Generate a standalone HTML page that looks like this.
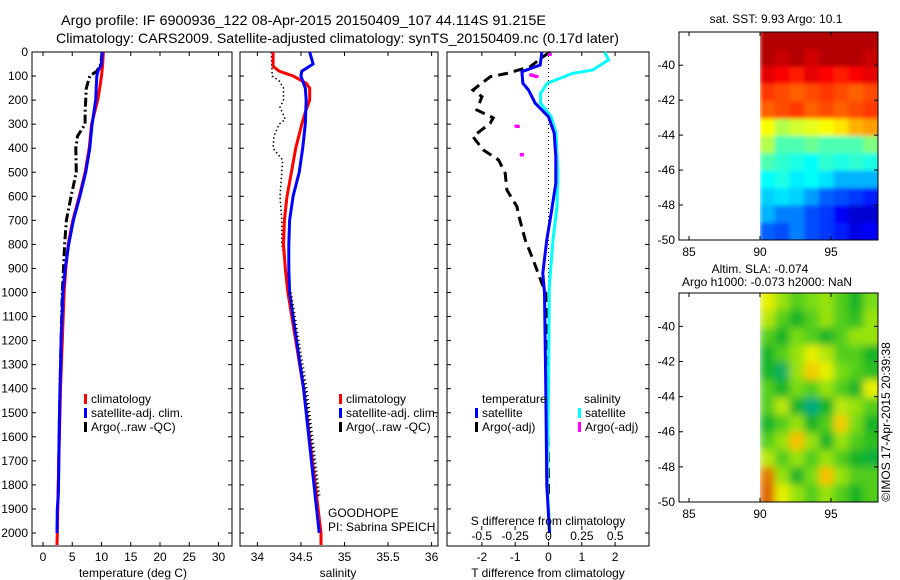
<!DOCTYPE html>
<html><head><meta charset="utf-8">
<style>
html,body{margin:0;padding:0;background:#fff;}
svg{display:block;font-family:"Liberation Sans",sans-serif;}
text{fill:#000;}
</style></head>
<body>
<svg id="fig" width="900" height="580" viewBox="0 0 900 580" xmlns="http://www.w3.org/2000/svg">
<defs>
<filter id="blurS" x="-5%" y="-5%" width="110%" height="110%"><feGaussianBlur stdDeviation="2"/></filter>
<filter id="blurL" x="-5%" y="-5%" width="110%" height="110%"><feGaussianBlur stdDeviation="4"/></filter>
<clipPath id="clipSST"><rect x="760" y="32" width="118" height="208"/></clipPath>
<clipPath id="clipSLA"><rect x="760" y="293" width="118" height="209"/></clipPath>
</defs>
<g id="titles">
<text x="61" y="25" font-size="14" textLength="485" lengthAdjust="spacingAndGlyphs">Argo profile: IF 6900936_122 08-Apr-2015 20150409_107 44.114S 91.215E</text>
<text x="56" y="43" font-size="14" textLength="563" lengthAdjust="spacingAndGlyphs">Climatology: CARS2009. Satellite-adjusted climatology: synTS_20150409.nc (0.17d later)</text>
</g>
</svg>
<script>
// ---------- data ----------
const depthTicks=[0,100,200,300,400,500,600,700,800,900,1000,1100,1200,1300,1400,1500,1600,1700,1800,1900,2000];
const tempTicks=[0,5,10,15,20,25,30];
const salTicks=[34,34.5,35,35.5,36];
const tdiffTicks=[-2,-1,0,1,2];
const sdiffTicks=[-0.5,-0.25,0,0.25,0.5];
const sdiffTickLabels=["-0.5","-0.25","0","0.25","0.5"];

const climDepth=[0,50,100,150,200,300,400,500,600,700,800,900,1000,1200,1400,1600,1800,2000,2050];
const climTemp=[10.3,10.2,10.0,9.7,9.35,8.3,7.9,7.2,6.2,5.1,4.3,3.9,3.6,3.3,3.0,2.8,2.6,2.45,2.4];
const satDepth=[0,50,80,100,150,200,300,400,500,600,700,800,900,1000,1200,1400,1600,1800,1850,1900,2000];
const satTemp=[10.1,10.0,9.4,9.2,9.1,9.0,8.4,8.0,7.3,6.3,5.2,4.4,3.8,3.4,3.1,2.9,2.75,2.65,2.6,2.45,2.4];
const argoDepth=[0,50,80,100,150,200,250,300,350,400,500,600,700,800,900,1000,1200,1400,1600,1850];
const argoTemp=[10.1,9.9,9.2,8.0,7.4,7.3,7.2,7.2,5.9,5.6,5.7,4.8,4.0,3.7,3.5,3.3,3.1,2.9,2.75,2.6];

const salClimDepth=[0,60,80,100,130,150,200,250,300,400,500,600,700,800,900,1000,1400,2000,2050];
const salClim=[34.18,34.18,34.25,34.41,34.56,34.60,34.60,34.55,34.51,34.44,34.39,34.34,34.31,34.30,34.32,34.35,34.53,34.73,34.73];
const salSatDepth=[0,50,80,100,150,200,300,400,500,600,700,800,900,1000,1400,2000];
const salSat=[34.60,34.64,34.51,34.50,34.55,34.56,34.55,34.52,34.48,34.41,34.37,34.36,34.36,34.37,34.53,34.71];
const salArgoDepth=[0,100,120,150,200,230,280,300,350,400,450,500,600,700,800,900,1000,1400,1850];
const salArgo=[34.16,34.17,34.25,34.30,34.30,34.26,34.32,34.25,34.19,34.18,34.29,34.28,34.26,34.28,34.28,34.33,34.37,34.55,34.70];

const tdSatDepth=[0,54,82,130,158,213,269,337,435,546,670,781,920,1000,1400,1800,2000];
const tdSat=[-0.2,-0.25,-0.8,-0.77,-0.6,-0.4,0,0.17,0.22,0.22,0.08,-0.05,-0.17,-0.12,-0.08,-0.05,0.03];
const sdSatDepth=[0,33,75,89,130,172,213,269,337,504,643,781,975,1400,1800,2000];
const sdSat=[0.42,0.45,0.33,0.18,-0.01,-0.06,-0.06,0.02,0.056,0.07,0.064,0.034,0.006,0.0,-0.01,0.01];
const tdArgoDepth=[0,19,61,89,103,158,186,241,274,296,352,407,449,504,574,643,698,781,865,961,1000,1400,1850];
const tdArgo=[0.05,-0.16,-0.55,-1.25,-1.75,-2.27,-2.0,-2.15,-1.66,-1.75,-2.27,-1.96,-1.5,-1.3,-1.25,-0.95,-0.86,-0.7,-0.46,-0.2,-0.08,-0.03,0.0];
const sdArgoDepth=[10,95,98,100,102,308,310,426,428];
const sdArgo=[0.01,-0.13,-0.12,-0.1,-0.09,-0.24,-0.23,-0.2,-0.2];

const latTicks=[-40,-42,-44,-46,-48,-50];
const lonTicks=[85,90,95];
const sstGrid=[
[0.95,0.95,0.95,0.95,0.95,0.95,0.95,0.95],
[0.95,0.93,0.95,0.92,0.95,0.95,0.95,0.93],
[0.90,0.88,0.85,0.90,0.87,0.85,0.88,0.90],
[0.82,0.80,0.78,0.80,0.82,0.80,0.78,0.80],
[0.78,0.80,0.82,0.78,0.80,0.78,0.80,0.82],
[0.62,0.55,0.58,0.60,0.62,0.65,0.70,0.72],
[0.55,0.45,0.45,0.48,0.45,0.45,0.45,0.50],
[0.45,0.42,0.40,0.38,0.42,0.40,0.42,0.40],
[0.38,0.40,0.36,0.38,0.35,0.30,0.30,0.30],
[0.33,0.35,0.33,0.28,0.22,0.20,0.18,0.15],
[0.30,0.25,0.25,0.20,0.18,0.12,0.08,0.08],
[0.22,0.20,0.25,0.20,0.18,0.15,0.10,0.12]];
const slaGrid=[
[0.65,0.60,0.55,0.58,0.60,0.55,0.50,0.58],
[0.62,0.55,0.50,0.55,0.60,0.55,0.52,0.60],
[0.55,0.50,0.58,0.55,0.50,0.55,0.60,0.60],
[0.50,0.55,0.60,0.65,0.62,0.55,0.55,0.50],
[0.50,0.45,0.60,0.70,0.65,0.58,0.55,0.52],
[0.55,0.50,0.58,0.55,0.60,0.55,0.50,0.65],
[0.55,0.62,0.50,0.42,0.50,0.62,0.60,0.55],
[0.50,0.55,0.60,0.50,0.55,0.70,0.58,0.50],
[0.55,0.60,0.72,0.60,0.50,0.60,0.55,0.52],
[0.62,0.55,0.60,0.55,0.60,0.55,0.50,0.48],
[0.80,0.60,0.50,0.58,0.72,0.60,0.55,0.55],
[0.82,0.65,0.60,0.55,0.60,0.55,0.50,0.55]];

// ---------- helpers ----------
const NS="http://www.w3.org/2000/svg";
const svg=document.getElementById('fig');
function mk(tag,attrs,parent){const e=document.createElementNS(NS,tag);for(const k in attrs)e.setAttribute(k,attrs[k]);(parent||svg).appendChild(e);return e;}
function txt(x,y,s,size,anchor,parent){const t=mk('text',{x:x,y:y,'font-size':size||12,'text-anchor':anchor||'start'},parent);t.textContent=s;return t;}
const yD=d=>52+d*0.2405;
const TOP=52,BOT=546;
const xT=v=>43+v*5.85;
const xS=v=>257.4+(v-34)*87.1;
const xTD=v=>548.5+v*33.3;
const xSD=v=>548.5+v*133.5;

function jet(v){
  v=Math.max(0,Math.min(1,v));
  const r=Math.max(0,Math.min(1,1.5-Math.abs(4*v-3)));
  const g=Math.max(0,Math.min(1,1.5-Math.abs(4*v-2)));
  const b=Math.max(0,Math.min(1,1.5-Math.abs(4*v-1)));
  return `rgb(${Math.round(r*255)},${Math.round(g*255)},${Math.round(b*255)})`;
}
// SLA colour scale: more saturated greens/yellows
function slaColor(v){
  const stops=[[0.40,[0,170,150]],[0.50,[20,180,40]],[0.58,[120,220,20]],[0.65,[230,240,0]],[0.72,[250,190,0]],[0.82,[220,100,0]]];
  if(v<=stops[0][0])return `rgb(${stops[0][1]})`;
  for(let i=1;i<stops.length;i++){if(v<=stops[i][0]){const a=stops[i-1],b=stops[i],f=(v-a[0])/(b[0]-a[0]);
    return `rgb(${a[1].map((c,k)=>Math.round(c+(b[1][k]-c)*f)).join(',')})`;}}
  return `rgb(${stops[stops.length-1][1]})`;
}

function panelBox(x0,x1,name){
  const g=mk('g',{});
  
  
  mk('rect',{x:x0,y:TOP,width:x1-x0,height:BOT-TOP,fill:'none',stroke:'#000','stroke-width':1},g);
  return g;
}
function line(xs,ds,xf,color,w,dash,parent,name){
  let d='';
  for(let i=0;i<xs.length;i++)d+=(i?'L':'M')+xf(xs[i]).toFixed(1)+','+yD(ds[i]).toFixed(1);
  const p=mk('path',{d:d,fill:'none',stroke:color,'stroke-width':w,'stroke-dasharray':dash||'none'},parent);
  
  
  return p;
}
function xTicks(g,ticks,xf,labels){
  ticks.forEach((t,i)=>{
    const x=xf(t);
    mk('line',{x1:x,y1:BOT,x2:x,y2:BOT-4,stroke:'#000'},g);
    mk('line',{x1:x,y1:TOP,x2:x,y2:TOP+4,stroke:'#000'},g);
    const l=txt(x,561,labels?labels[i]:String(t),12,'middle',g);
    
    
  });
}
function yTicks(g,x0,x1){
  depthTicks.forEach(d=>{
    mk('line',{x1:x0,y1:yD(d),x2:x0+4,y2:yD(d),stroke:'#000'},g);
    mk('line',{x1:x1,y1:yD(d),x2:x1-4,y2:yD(d),stroke:'#000'},g);
  });
}
function legend(g,x,y,color,label){
  mk('rect',{x:x,y:y-9,width:3,height:10,fill:color},g);
  const t=txt(x+7,y,label,12,'start',g);
  
  
}

// ---------- panel 1 ----------
const p1=panelBox(32,232,'temperature-panel');
yTicks(p1,32,232);
depthTicks.forEach(d=>{const l=txt(28,yD(d)+4,String(d),12,'end',p1);

});
xTicks(p1,tempTicks,xT);
{const t=txt(133,577,'temperature (deg C)',12,'middle',p1);

}
line(argoTemp,argoDepth,xT,'#000',3,'9,3,2,3',p1,'argo-temperature-line');
line(climTemp,climDepth,xT,'#ff0000',3,null,p1,'climatology-temperature-line');
line(satTemp,satDepth,xT,'#0000ff',3,null,p1,'satellite-temperature-line');
legend(p1,84,403,'#ff0000','climatology');
legend(p1,84,417,'#0000ff','satellite-adj. clim.');
legend(p1,84,431,'#000','Argo(..raw -QC)');

// ---------- panel 2 ----------
const p2=panelBox(240,438,'salinity-panel');
yTicks(p2,240,438);
xTicks(p2,salTicks,xS);
{const t=txt(338,577,'salinity',12,'middle',p2);

}
line(salArgo,salArgoDepth,xS,'#000',1.5,'1.5,2.5',p2,'argo-salinity-line');
line(salClim,salClimDepth,xS,'#ff0000',3,null,p2,'climatology-salinity-line');
line(salSat,salSatDepth,xS,'#0000ff',3,null,p2,'satellite-salinity-line');
line(salArgo.slice(-3).map(v=>v+0.01),salArgoDepth.slice(-3),xS,'#000',3,'1,3',p2,'argo-salinity-deep-marks');
legend(p2,339,403,'#ff0000','climatology');
legend(p2,339,417,'#0000ff','satellite-adj. clim.');
legend(p2,339,431,'#000','Argo(..raw -QC)');
{const t=txt(328,517,'GOODHOPE',12,'start',p2);

}
{const t=txt(328,531,'PI: Sabrina SPEICH',12,'start',p2);

}

// ---------- panel 3 ----------
const p3=panelBox(447,649,'difference-panel');
yTicks(p3,447,649);
xTicks(p3,tdiffTicks,xTD);
{const t=txt(548,577,'T difference from climatology',12,'middle',p3);

}
mk('line',{x1:xTD(0),y1:TOP,x2:xTD(0),y2:BOT,stroke:'#000','stroke-width':1,'stroke-dasharray':'1,3'},p3);
line(tdArgo,tdArgoDepth,xTD,'#000',3,'10,6',p3,'argo-temperature-diff-line');
line(sdSat,sdSatDepth,xSD,'#00ffff',3,null,p3,'satellite-salinity-diff-line');
line(tdSat,tdSatDepth,xTD,'#0000ff',3,null,p3,'satellite-temperature-diff-line');
sdArgo.forEach((v,i)=>{const r=mk('rect',{x:xSD(v)-2,y:yD(sdArgoDepth[i])-1.5,width:4,height:3,fill:'#ff00ff'},p3);

});
txt(482,403,'temperature',12,'start',p3);
txt(584,403,'salinity',12,'start',p3);
legend(p3,475,417,'#0000ff','satellite');
legend(p3,475,431,'#000','Argo(-adj)');
legend(p3,578,417,'#00ffff','satellite');
legend(p3,578,431,'#ff00ff','Argo(-adj)');
{const t=txt(548,525,'S difference from climatology',12,'middle',p3);

}
sdiffTicks.forEach((v,i)=>{const x=xSD(v);mk('line',{x1:x,y1:BOT-20,x2:x,y2:BOT-16,stroke:'#000'},p3);
const l=txt(x,540,sdiffTickLabels[i],12,'middle',p3);

});

// ---------- maps ----------
const MX0=679,MX1=878;
const xLon=l=>760+(l-90)*14.2;
function drawMap(grid,top,bot,name,colorFn,clipId,filterId){
  const g=mk('g',{});
  
  
  const yLat=la=>top+(-38.1-la)*(bot-top)/11.9;
  const rows=grid.length,cols=grid[0].length;
  const lonStep=(98.3-90)/cols,latStep=11.9/rows;
  const clipG=mk('g',{'clip-path':'url(#'+clipId+')'},g);
  const cg=mk('g',{filter:'url(#'+filterId+')'},clipG);
  for(let r=0;r<rows;r++)for(let c=0;c<cols;c++){
    let x=xLon(90+c*lonStep),y=yLat(-38.1-r*latStep);
    let w=xLon(90+(c+1)*lonStep)-x+0.5,h=yLat(-38.1-(r+1)*latStep)-y+0.5;
    if(c===cols-1)w+=8; if(r===rows-1)h+=8; if(r===0){y-=8;h+=8;}
    const cell=mk('rect',{x:x,y:y,width:w,height:h,fill:colorFn(grid[r][c])},cg);
    
    
  }
  mk('rect',{x:MX0,y:top,width:MX1-MX0,height:bot-top,fill:'none',stroke:'#000'},g);
  latTicks.forEach(la=>{const y=yLat(la);mk('line',{x1:MX0,y1:y,x2:MX0+4,y2:y,stroke:'#000'},g);
  mk('line',{x1:MX1,y1:y,x2:MX1-4,y2:y,stroke:'#000'},g);
  const l=txt(MX0-4,y+4,String(la),12,'end',g);
  
  });
  lonTicks.forEach(lo=>{const x=xLon(lo);mk('line',{x1:x,y1:bot,x2:x,y2:bot-4,stroke:'#000'},g);
  mk('line',{x1:x,y1:top,x2:x,y2:top+4,stroke:'#000'},g);
  const l=txt(x,bot+16,String(lo),12,'middle',g);
  
  });
  return g;
}
drawMap(sstGrid,32,240,'sst-map',jet,'clipSST','blurS');
drawMap(slaGrid,293,502,'sla-map',slaColor,'clipSLA','blurL');
{const t=txt(776,23,'sat. SST: 9.93 Argo: 10.1',12,'middle');

}
{const t=txt(760,273,'Altim. SLA: -0.074',12,'middle');

}
{const t=txt(767,286,'Argo h1000: -0.073 h2000: NaN',12,'middle');

}
{const t=txt(0,0,'\u00A9IMOS 17-Apr-2015 20:39:38',12,'middle');
t.setAttribute('transform','translate(890,422) rotate(-90)');

}
</script>
</body></html>
